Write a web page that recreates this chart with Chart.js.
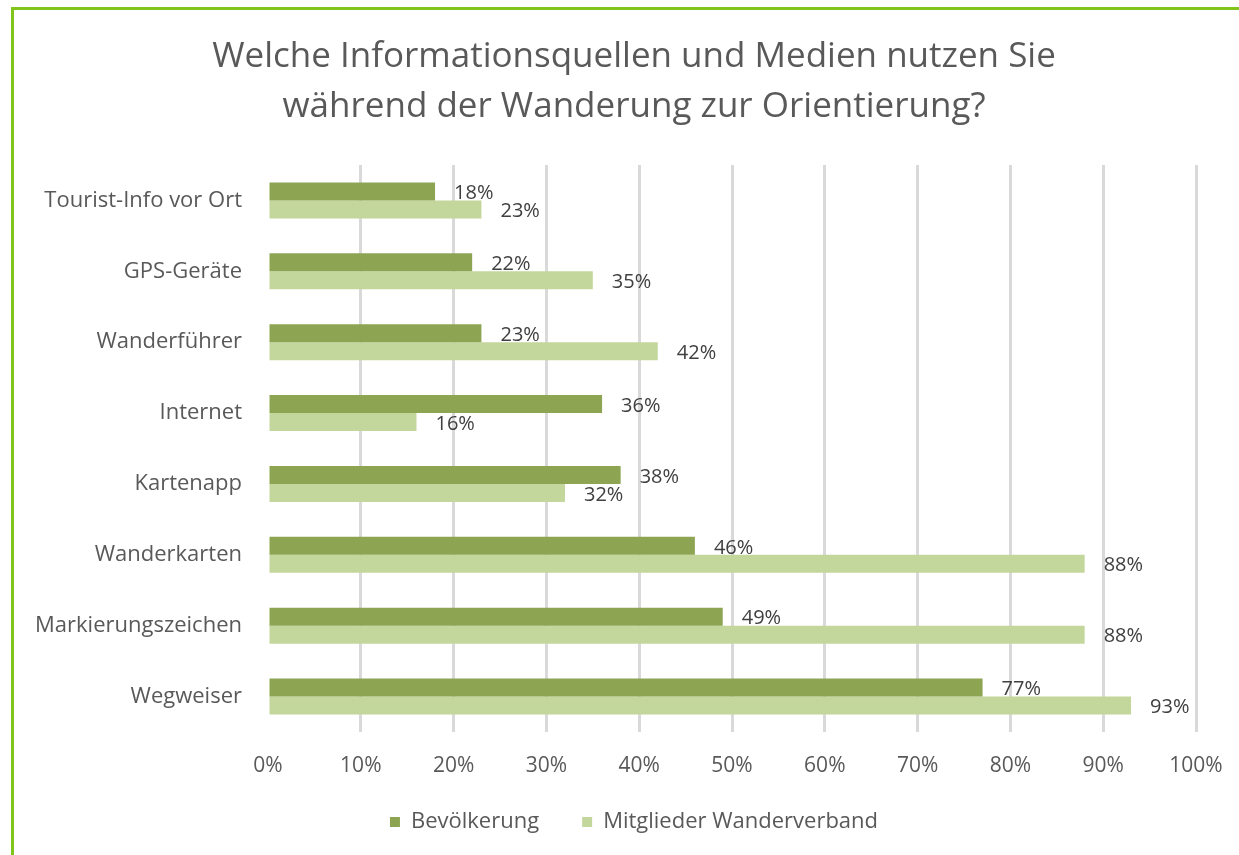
<!DOCTYPE html>
<html lang="de">
<head>
<meta charset="utf-8">
<title>Informationsquellen zur Orientierung</title>
<script src="https://cdn.jsdelivr.net/npm/chart.js@4.4.1/dist/chart.umd.min.js"></script>
<style>
  html, body { margin: 0; padding: 0; background: #ffffff; }
  #frame {
    position: absolute; left: 11px; top: 7px; width: 1300px; height: 900px;
    border-left: 3px solid #80c41c; border-top: 3px solid #80c41c;
  }
  #wrap { position: absolute; left: 0; top: 0; width: 1239px; height: 855px; }
</style>
</head>
<body>
<div id="frame"></div>
<div id="wrap"><canvas id="chart" width="1239" height="855"></canvas></div>
<script>
// Survey answers, in percent of respondents
const categories = [
  'Tourist-Info vor Ort',
  'GPS-Geräte',
  'Wanderführer',
  'Internet',
  'Kartenapp',
  'Wanderkarten',
  'Markierungszeichen',
  'Wegweiser'
];
const seriesNames = ['Bevölkerung', 'Mitglieder Wanderverband'];
const bevoelkerung = [18, 22, 23, 36, 38, 46, 49, 77];
const mitglieder = [23, 35, 42, 16, 32, 88, 88, 93];
const tickValues = [0, 10, 20, 30, 40, 50, 60, 70, 80, 90, 100];
const titleLines = [
  'Welche Informationsquellen und Medien nutzen Sie',
  'während der Wanderung zur Orientierung?'
];

const FONT = "'Open Sans', Lato, 'DejaVu Sans', sans-serif";
const GREY = '#595959';

// Writes each bar's value just past its end
const valueLabels = {
  id: 'valueLabels',
  afterDatasetsDraw(chart) {
    const ctx = chart.ctx;
    ctx.save();
    ctx.font = '20px ' + FONT;
    ctx.fillStyle = '#404040';
    ctx.textAlign = 'left';
    ctx.textBaseline = 'middle';
    chart.data.datasets.forEach((ds, i) => {
      const meta = chart.getDatasetMeta(i);
      meta.data.forEach((bar, j) => {
        ctx.fillText(ds.data[j] + '%', bar.x + 19, bar.y + 2);
      });
    });
    ctx.restore();
  }
};

// Pulls the legend row a little closer to the axis labels
const legendLift = {
  id: 'legendLift',
  afterLayout(chart) {
    if (chart.legend) {
      chart.legend.top -= 10;
      chart.legend.bottom -= 10;
    }
  }
};

new Chart(document.getElementById('chart'), {
  type: 'bar',
  data: {
    labels: categories,
    datasets: [
      { label: seriesNames[0], data: bevoelkerung, backgroundColor: '#8da552' },
      { label: seriesNames[1], data: mitglieder, backgroundColor: '#c3d69b' }
    ]
  },
  options: {
    indexAxis: 'y',
    responsive: false,
    animation: false,
    events: [],
    categoryPercentage: 0.507,
    barPercentage: 1,
    layout: { padding: { left: 29, right: 0, top: 0, bottom: 2 } },
    scales: {
      x: {
        min: 0,
        max: 100,
        afterBuildTicks(scale) { scale.ticks = tickValues.map(v => ({ value: v })); },
        afterFit(scale) { scale.paddingRight = 43; scale.height = 46; },
        ticks: {
          callback: v => v + '%',
          color: GREY,
          font: { family: FONT, size: 21 },
          padding: 21,
          maxRotation: 0
        },
        grid: {
          color: c => (c.tick && c.tick.value === 0) ? 'rgba(0,0,0,0)' : '#d9d9d9',
          lineWidth: 3,
          drawTicks: false
        },
        border: { display: false }
      },
      y: {
        afterFit(scale) { scale.width = 239; },
        ticks: {
          color: GREY,
          font: { family: FONT, size: 22 },
          padding: 18
        },
        grid: { display: false },
        border: { display: false }
      }
    },
    plugins: {
      title: {
        display: true,
        text: titleLines,
        color: GREY,
        font: { family: FONT, size: 35, weight: 'normal', lineHeight: 50 / 35 },
        padding: { top: 32, bottom: 33 }
      },
      legend: {
        position: 'bottom',
        labels: {
          color: GREY,
          font: { family: FONT, size: 22 },
          boxWidth: 10,
          boxHeight: 10,
          padding: 43
        }
      },
      tooltip: { enabled: false }
    }
  },
  plugins: [valueLabels, legendLift]
});
</script>
</body>
</html>
